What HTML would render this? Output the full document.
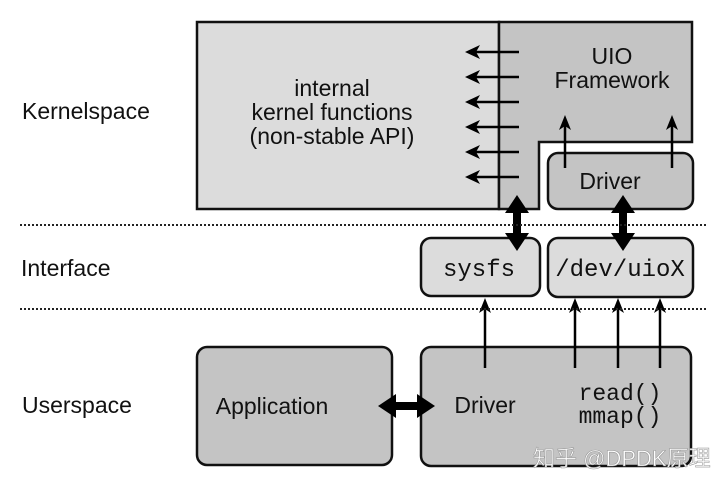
<!DOCTYPE html>
<html><head><meta charset="utf-8"><style>
html,body{margin:0;padding:0;background:#fff;}
svg{display:block}
.s{font-family:"Liberation Sans",sans-serif;fill:#111}
.m{font-family:"Liberation Mono",monospace;fill:#111}
</style></head><body>
<svg width="720" height="488" viewBox="0 0 720 488" xmlns="http://www.w3.org/2000/svg">
<rect x="0" y="0" width="720" height="488" fill="#fff"/>
<rect x="197" y="22" width="302" height="187" fill="#dcdcdc" stroke="#111" stroke-width="2.5"/>
<path d="M499,22 L692,22 L692,142 L539,142 L539,209 L499,209 Z" fill="#c4c4c4" stroke="#111" stroke-width="2.5"/>
<rect x="548" y="153" width="145" height="56" rx="10" fill="#c4c4c4" stroke="#111" stroke-width="2.5"/>
<rect x="421" y="238" width="119" height="58" rx="10" fill="#dcdcdc" stroke="#111" stroke-width="2.5"/>
<rect x="548" y="238" width="145" height="59" rx="10" fill="#dcdcdc" stroke="#111" stroke-width="2.5"/>
<rect x="197" y="347" width="195" height="118" rx="10" fill="#c4c4c4" stroke="#111" stroke-width="2.5"/>
<rect x="421" y="347" width="270" height="119" rx="10" fill="#c4c4c4" stroke="#111" stroke-width="2.5"/>
<g stroke="#000" stroke-width="2.5">
<line x1="519" y1="52" x2="472" y2="52"/><line x1="519" y1="77" x2="472" y2="77"/>
<line x1="519" y1="102" x2="472" y2="102"/><line x1="519" y1="127" x2="472" y2="127"/>
<line x1="519" y1="152" x2="472" y2="152"/><line x1="519" y1="177" x2="472" y2="177"/>
<line x1="565" y1="168" x2="565" y2="122"/><line x1="672" y1="168" x2="672" y2="122"/>
<line x1="485" y1="368" x2="485" y2="305"/>
<line x1="575" y1="368" x2="575" y2="305"/>
<line x1="618" y1="368" x2="618" y2="305"/>
<line x1="660" y1="368" x2="660" y2="305"/>
</g>
<g fill="#000">
<path d="M465,52 l15,-7 l-4,7 l4,7z"/><path d="M465,77 l15,-7 l-4,7 l4,7z"/>
<path d="M465,102 l15,-7 l-4,7 l4,7z"/><path d="M465,127 l15,-7 l-4,7 l4,7z"/>
<path d="M465,152 l15,-7 l-4,7 l4,7z"/><path d="M465,177 l15,-7 l-4,7 l4,7z"/>
<path d="M565,115 l-6,15 l6,-4 l6,4z"/><path d="M672,115 l-6,15 l6,-4 l6,4z"/>
<path d="M485,298 l-6,15 l6,-4 l6,4z"/><path d="M575,298 l-6,15 l6,-4 l6,4z"/>
<path d="M618,298 l-6,15 l6,-4 l6,4z"/><path d="M660,298 l-6,15 l6,-4 l6,4z"/>
<path d="M517,195 l12,18 l-8,0 l0,20 l8,0 l-12,18 l-12,-18 l8,0 l0,-20 l-8,0z"/>
<path d="M623,195 l12,18 l-8,0 l0,20 l8,0 l-12,18 l-12,-18 l8,0 l0,-20 l-8,0z"/>
<path d="M378,406 l18,-12 l0,8 l21,0 l0,-8 l18,12 l-18,12 l0,-8 l-21,0 l0,8z"/>
</g>
<line x1="20" y1="225" x2="708" y2="225" stroke="#222" stroke-width="2" stroke-dasharray="2,2"/>
<line x1="20" y1="309" x2="708" y2="309" stroke="#222" stroke-width="2" stroke-dasharray="2,2"/>
<text class="s" font-size="23" text-anchor="middle" x="332" y="96">internal</text>
<text class="s" font-size="23" text-anchor="middle" x="332" y="120">kernel functions</text>
<text class="s" font-size="23" text-anchor="middle" x="332" y="144">(non-stable API)</text>
<text class="s" font-size="23" text-anchor="middle" x="612" y="64">UIO</text>
<text class="s" font-size="23" text-anchor="middle" x="612" y="88">Framework</text>
<text class="s" font-size="23" text-anchor="middle" x="610" y="189">Driver</text>
<text class="m" font-size="24" text-anchor="middle" x="479" y="276">sysfs</text>
<text class="m" font-size="24" text-anchor="middle" x="620" y="276">/dev/uioX</text>
<text class="s" font-size="23" text-anchor="middle" x="272" y="414">Application</text>
<text class="s" font-size="23" text-anchor="middle" x="485" y="413">Driver</text>
<text class="m" font-size="23" text-anchor="middle" x="620" y="400">read()</text>
<text class="m" font-size="23" text-anchor="middle" x="620" y="423">mmap()</text>
<text class="s" font-size="23" x="22" y="119">Kernelspace</text>
<text class="s" font-size="23" x="21" y="276">Interface</text>
<text class="s" font-size="23" x="22" y="413">Userspace</text>
<text font-family="'Liberation Sans','Noto Sans CJK SC',sans-serif" font-size="22" fill="#fff" stroke="#999" stroke-width="0.6" x="533" y="466">知乎 @DPDK原理</text>
</svg>
</body></html>
